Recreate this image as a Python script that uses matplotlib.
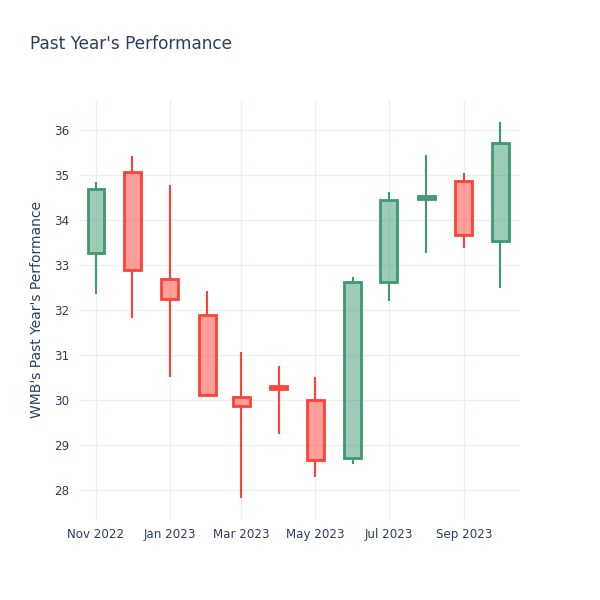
import matplotlib
matplotlib.use("Agg")
import matplotlib.pyplot as plt
import matplotlib.dates as mdates
import numpy as np
import pandas as pd

dates = ["2022-11-01", "2022-12-01", "2023-01-01", "2023-02-01", "2023-03-01", "2023-04-01",
         "2023-05-01", "2023-06-01", "2023-07-01", "2023-08-01", "2023-09-01", "2023-10-01"]
open_ = [33.27, 35.06, 32.70, 31.89, 30.06, 30.31, 30.00, 28.70, 32.63, 34.47, 34.87, 33.53]
high = [34.84, 35.43, 34.78, 32.42, 31.06, 30.76, 30.50, 32.74, 34.63, 35.44, 35.05, 36.18]
low = [32.35, 31.82, 30.52, 30.11, 27.81, 29.24, 28.28, 28.58, 32.21, 33.27, 33.37, 32.50]
close = [34.69, 32.90, 32.24, 30.11, 29.87, 30.25, 28.67, 32.63, 34.44, 34.53, 33.67, 35.72]
tick_dates = ["2022-11-01", "2023-01-01", "2023-03-01", "2023-05-01", "2023-07-01", "2023-09-01"]
yticks = [28, 29, 30, 31, 32, 33, 34, 35, 36]

title = "Past Year's Performance"
ylabel = "WMB's Past Year's Performance"

INC = "#3D9970"
DEC = "#FF4136"
TEXT = "#2a3f5f"
GRID = "#EBF0F8"

fig = plt.figure(figsize=(6, 6), dpi=100)
ax = fig.add_axes([80/600, 80/600, 440/600, 420/600])

x = mdates.date2num(pd.to_datetime(dates))
width = 14.0
for xi, o, h, l, c in zip(x, open_, high, low, close):
    col = INC if c >= o else DEC
    top, bot = max(o, c), min(o, c)
    ax.vlines(xi, top, h, color=col, linewidth=1.5, zorder=3)
    ax.vlines(xi, l, bot, color=col, linewidth=1.5, zorder=3)
    ax.bar(xi, max(top - bot, 0.001), bottom=bot, width=width, color=col, alpha=0.5,
           linewidth=0, zorder=2)
    ax.bar(xi, max(top - bot, 0.001), bottom=bot, width=width, facecolor="none",
           edgecolor=col, linewidth=2, zorder=3)

xt = mdates.date2num(pd.to_datetime(tick_dates))
ax.set_xticks(xt)
ax.set_xticklabels([pd.Timestamp(d).strftime("%b %Y") for d in tick_dates])
ax.set_yticks(yticks)
ax.set_yticklabels([str(v) for v in yticks])
ax.set_xlim(x[0] - 13.2, x[-1] + 16.3)
ax.set_ylim(27.33, 36.67)

ax.grid(True, color=GRID, linewidth=1)
ax.set_axisbelow(True)
for s in ax.spines.values():
    s.set_visible(False)
ax.tick_params(length=0, colors=TEXT, labelsize=8.6)
ax.tick_params(axis="y", pad=8)
ax.tick_params(axis="x", pad=6)
ax.set_ylabel(ylabel, color=TEXT, fontsize=10, labelpad=7)
fig.text(30/600, 1 - 44/600, title, color=TEXT, fontsize=12.2, va="center", ha="left")

fig.savefig("out.png", dpi=100)
